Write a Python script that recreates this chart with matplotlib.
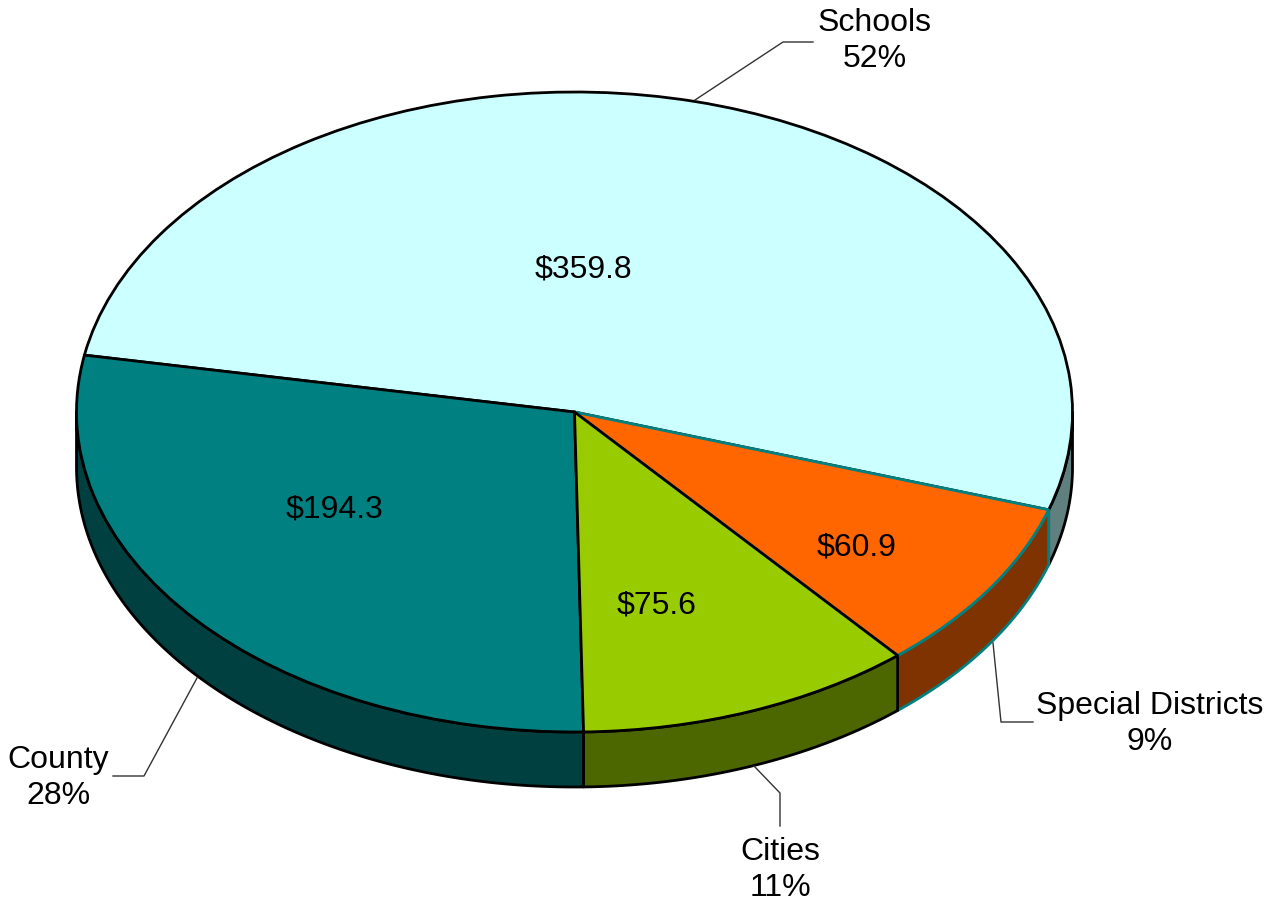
import numpy as np
import matplotlib
matplotlib.use("Agg")
import matplotlib.pyplot as plt

# data
categories = ["Schools", "County", "Cities", "Special Districts"]
amounts = [359.8, 194.3, 75.6, 60.9]
top_colors = ["#CCFFFF", "#008080", "#99CC00", "#FF6600"]
side_colors = ["#608080", "#004040", "#4C6600", "#7F3300"]
edge_colors = ["black", "black", "black", "#008080"]
layer = [2, 4, 4, 3]

# layout (pixel positions in the 1282x907 picture)
W, H = 1282, 907
CX, CY, RX, RY = 574.5, 412, 498, 320
DEPTH = 55 / RY
START = -17.8
amount_pos = [(583, 270), (335, 510), (657, 605), (857, 548)]
name_pos = [(875, 41), (58, 778), (780, 870), (1150, 724)]
leaders = [
    [(695, 100), (783, 42), (813, 42)],
    [(197, 678), (144, 776), (113, 776)],
    [(754, 766), (780, 793), (780, 826)],
    [(993, 643), (1001, 722), (1033, 722)],
]


def px(x, y):
    return (x - CX) / RX, (CY - y) / RY


plt.rcParams["font.family"] = ["Liberation Sans", "DejaVu Sans"]
fig = plt.figure(figsize=(W / 100, H / 100), dpi=100)
ax = fig.add_axes([0, 0, 1, 1])

wedges, _ = ax.pie(amounts, startangle=START, counterclock=True,
                   colors=top_colors,
                   wedgeprops=dict(linewidth=2, joinstyle="round"))
for w, ec, z in zip(wedges, edge_colors, layer):
    w.set_edgecolor(ec)
    w.set_zorder(z + 10)

# side of the pie, only the front half is visible
for w, sc, ec, z in zip(wedges, side_colors, edge_colors, layer):
    t1, t2 = w.theta1, w.theta2
    for off in (-360, 0):
        lo, hi = max(t1, 180 + off), min(t2, 360 + off)
        if hi <= lo:
            continue
        t = np.radians(np.linspace(lo, hi, 200))
        xs = np.concatenate([np.cos(t), np.cos(t[::-1])])
        ys = np.concatenate([np.sin(t), np.sin(t[::-1]) - DEPTH])
        ax.fill(xs, ys, facecolor=sc, edgecolor=ec, linewidth=2,
                joinstyle="round", zorder=z)

ax.set_aspect("auto")
ax.set_xlim(-CX / RX, (W - CX) / RX)
ax.set_ylim((CY - H) / RY, CY / RY)
ax.axis("off")

total = sum(amounts)
for name, amt, apos, npos, pts in zip(categories, amounts, amount_pos,
                                       name_pos, leaders):
    ax.text(*px(*apos), "${:.1f}".format(amt), fontsize=23,
            ha="center", va="center", zorder=30)
    ax.text(*px(*npos), "{}\n{:.0f}%".format(name, amt / total * 100),
            fontsize=23, ha="center", va="center", linespacing=1.3,
            zorder=30)
    lx, ly = zip(*[px(*p) for p in pts])
    ax.plot(lx, ly, color="#333333", linewidth=1, zorder=30)

fig.savefig("out.png", dpi=100)
